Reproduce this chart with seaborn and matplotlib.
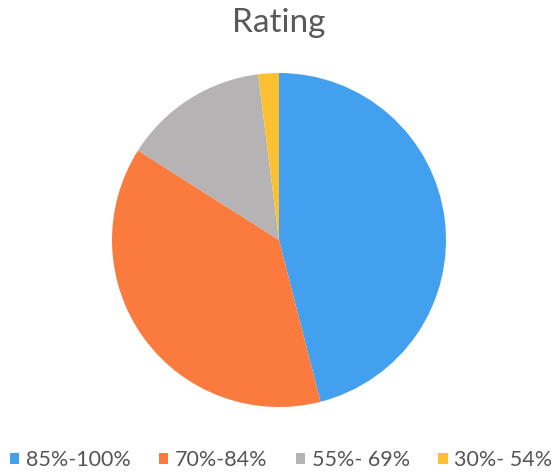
import matplotlib
matplotlib.use("Agg")
import matplotlib.pyplot as plt
import seaborn as sns
from matplotlib.patches import Patch

categories = ["85%-100%", "70%-84%", "55%- 69%", "30%- 54%"]
values = [46, 38, 14, 2]
colors = ["#42a0ee", "#fb7b3f", "#b5b3b3", "#fcc133"]
title = "Rating"

sns.set_theme(style="white")
plt.rcParams['font.family'] = ['Lato', 'DejaVu Sans']

W, H = 554, 474
fig = plt.figure(figsize=(W/100, H/100), dpi=100)
fig.patch.set_facecolor("white")

cx, cy, r = 279, 240, 167
ax = fig.add_axes([(cx - r)/W, (H - cy - r)/H, 2*r/W, 2*r/H])
pal = sns.color_palette(colors)
ax.pie(values, colors=pal, startangle=90, counterclock=False,
       wedgeprops=dict(linewidth=0))
ax.set_xlim(-1, 1)
ax.set_ylim(-1, 1)
ax.set_aspect("equal")
ax.axis("off")

fig.text(cx/W, 1 - 23/H, title, ha="center", va="center",
         fontsize=24, color="#595959")

handles = [Patch(facecolor=c, edgecolor="none") for c in pal]
fig.legend(handles, categories, ncol=4, loc="center",
           bbox_to_anchor=(281/W, 1 - 460/H), frameon=False,
           fontsize=15.5, handlelength=0.44, handleheight=0.44,
           handletextpad=0.3, columnspacing=1.32, labelcolor="#555555",
           borderpad=0, borderaxespad=0)

fig.savefig("out.png", dpi=100)
